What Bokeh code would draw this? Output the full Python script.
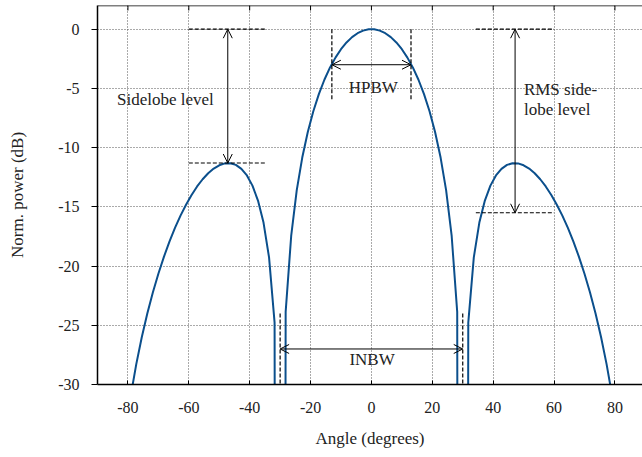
from bokeh.plotting import figure
from bokeh.models import Range1d, FixedTicker, Arrow, OpenHead, Span
from bokeh.core.properties import value
from bokeh.embed import file_html
from bokeh.resources import INLINE

# ---- data ----
angle = [-90.000, -88.182, -86.364, -84.545, -82.727, -80.909, -79.091, -77.273, -75.455, -73.636,
         -71.818, -70.000, -68.182, -66.364, -64.545, -62.727, -60.909, -59.091, -57.273, -55.455,
         -53.636, -51.818, -50.000, -48.182, -46.364, -44.545, -42.727, -40.909, -39.091, -37.273,
         -35.455, -33.636, -31.818, -30.000, -28.182, -26.364, -24.545, -22.727, -20.909, -19.091,
         -17.273, -15.455, -13.636, -11.818, -10.000, -8.182, -6.364, -4.545, -2.727, -0.909,
         0.909, 2.727, 4.545, 6.364, 8.182, 10.000, 11.818, 13.636, 15.455, 17.273,
         19.091, 20.909, 22.727, 24.545, 26.364, 28.182, 30.000, 31.818, 33.636, 35.455,
         37.273, 39.091, 40.909, 42.727, 44.545, 46.364, 48.182, 50.000, 51.818, 53.636,
         55.455, 57.273, 59.091, 60.909, 62.727, 64.545, 66.364, 68.182, 70.000, 71.818,
         73.636, 75.455, 77.273, 79.091, 80.909, 82.727, 84.545, 86.364, 88.182, 90.000]

power_db = [-300.0, -62.00, -50.00, -42.97, -37.96, -34.10, -30.96, -28.30, -26.01, -24.00,
            -22.23, -20.65, -19.22, -17.94, -16.78, -15.74, -14.82, -14.00, -13.28, -12.67,
            -12.16, -11.77, -11.49, -11.33, -11.32, -11.46, -11.79, -12.35, -13.21, -14.47,
            -16.33, -19.27, -24.78, -300.0, -23.87, -17.46, -13.61, -10.84, -8.68, -6.93,
            -5.48, -4.27, -3.25, -2.40, -1.69, -1.12, -0.67, -0.34, -0.12, -0.01,
            -0.01, -0.12, -0.34, -0.67, -1.12, -1.69, -2.40, -3.25, -4.27, -5.48,
            -6.93, -8.68, -10.84, -13.61, -17.46, -23.87, -300.0, -24.78, -19.27, -16.33,
            -14.47, -13.21, -12.35, -11.79, -11.46, -11.32, -11.33, -11.49, -11.77, -12.16,
            -12.67, -13.28, -14.00, -14.82, -15.74, -16.78, -17.94, -19.22, -20.65, -22.23,
            -24.00, -26.01, -28.30, -30.96, -34.10, -37.96, -42.97, -50.00, -62.00, -300.0]

x_ticks = [-80, -60, -40, -20, 0, 20, 40, 60, 80]
x_tick_labels = ["-80", "-60", "-40", "-20", "0", "20", "40", "60", "80"]
y_ticks = [-30, -25, -20, -15, -10, -5, 0]
y_tick_labels = ["-30", "-25", "-20", "-15", "-10", "-5", "0"]

sidelobe_peak = 47.2
sidelobe_level = -11.3
rms_level = -15.5
hpbw_half = 13.0
hpbw_level = -3.0
inbw_half = 30.0
inbw_y = -27.0

# annotation guide lines (dashed)
guide_x0 = [-60.0, -60.0, -hpbw_half, hpbw_half, 34.3, 34.3, -inbw_half, inbw_half]
guide_x1 = [-34.5, -34.5, -hpbw_half, hpbw_half, 60.0, 60.0, -inbw_half, inbw_half]
guide_y0 = [0.0, sidelobe_level, 0.0, 0.0, 0.0, rms_level, -24.0, -24.0]
guide_y1 = [0.0, sidelobe_level, -6.0, -6.0, 0.0, rms_level, -30.0, -30.0]

label_text = ["Sidelobe level", "RMS side-", "lobe level"]
label_x = [-83.6, 50.1, 50.1]
label_y = [-5.92, -5.08, -6.77]
center_text = ["HPBW", "INBW"]
center_x = [0.6, 0.2]
center_y = [-4.91, -27.9]

Y_TOP = 2.0
Y_BOTTOM = -30.0
TOP_TICK_LEN = 0.42  # inward tick length on the top frame line, in data units

FONT = "Liberation Serif"
CURVE = "#0b4f8c"

p = figure(width=642, height=457, output_backend="svg", toolbar_location=None,
           x_range=Range1d(-90, 89.06), y_range=Range1d(Y_BOTTOM, Y_TOP),
           min_border_left=97, min_border_right=0, min_border_top=5, min_border_bottom=73)
p.outline_line_color = None
p.background_fill_color = "white"
p.border_fill_color = "white"

# grid
for g, t in ((p.xgrid, x_ticks), (p.ygrid, y_ticks)):
    g.ticker = FixedTicker(ticks=t)
    g.grid_line_color = "#555555"
    g.grid_line_dash = "1 2"
    g.grid_line_width = 1

# bottom axis
xa = p.xaxis[0]
xa.ticker = FixedTicker(ticks=x_ticks)
xa.major_label_overrides = dict(zip(x_ticks, x_tick_labels))
xa.major_tick_in = 4
xa.major_tick_out = 0
xa.minor_tick_in = 0
xa.minor_tick_out = 0
xa.axis_line_width = 1.5
xa.axis_line_color = "black"
xa.major_tick_line_color = "black"
xa.major_label_text_font = FONT
xa.major_label_text_font_size = "16px"
xa.major_label_text_color = "#222222"
xa.major_label_standoff = 17
xa.axis_label = "Angle (degrees)"
xa.axis_label_text_font = FONT
xa.axis_label_text_font_size = "17px"
xa.axis_label_text_font_style = "normal"
xa.axis_label_text_color = "#222222"
xa.axis_label_standoff = 13

# left axis
ya = p.yaxis[0]
ya.ticker = FixedTicker(ticks=y_ticks)
ya.major_label_overrides = dict(zip(y_ticks, y_tick_labels))
ya.major_tick_in = 0
ya.major_tick_out = 6
ya.minor_tick_in = 0
ya.minor_tick_out = 0
ya.axis_line_width = 1.5
ya.axis_line_color = "black"
ya.major_tick_line_color = "black"
ya.major_label_text_font = FONT
ya.major_label_text_font_size = "16px"
ya.major_label_text_color = "#222222"
ya.major_label_standoff = 12
ya.axis_label = "Norm. power (dB)"
ya.axis_label_text_font = FONT
ya.axis_label_text_font_size = "17px"
ya.axis_label_text_font_style = "normal"
ya.axis_label_text_color = "#222222"
ya.axis_label_standoff = 28

# top frame line with inward ticks (no labels in the reference)
p.add_layout(Span(location=Y_TOP, dimension="width", line_color="black", line_width=1.5))
p.segment(x0=x_ticks, y0=[Y_TOP] * len(x_ticks), x1=x_ticks,
          y1=[Y_TOP - TOP_TICK_LEN] * len(x_ticks), line_color="black", line_width=1)

# curve
p.line(angle, power_db, line_color=CURVE, line_width=2)

# dashed guides
p.segment(x0=guide_x0, y0=guide_y0, x1=guide_x1, y1=guide_y1,
          line_color="black", line_width=1.2, line_dash="4 2")

# arrows
def dbl_arrow(xs, ys, xe, ye):
    p.add_layout(Arrow(start=OpenHead(size=9, line_width=1), end=OpenHead(size=9, line_width=1),
                       x_start=xs, y_start=ys, x_end=xe, y_end=ye,
                       line_width=1, line_color="black"))

dbl_arrow(-sidelobe_peak, 0.0, -sidelobe_peak, sidelobe_level)
dbl_arrow(sidelobe_peak, 0.0, sidelobe_peak, rms_level)
dbl_arrow(-hpbw_half, hpbw_level, hpbw_half, hpbw_level)
dbl_arrow(-inbw_half, inbw_y, inbw_half, inbw_y)

# labels
p.text(x=label_x, y=label_y, text=label_text, text_font=value(FONT),
       text_font_size=value("17px"), text_align="left", text_baseline="alphabetic",
       text_color="#222222")
p.text(x=center_x, y=center_y, text=center_text, text_font=value(FONT),
       text_font_size=value("17px"), text_align="center", text_baseline="alphabetic",
       text_color="#222222")

open("out.html", "w").write(file_html(p, INLINE))
